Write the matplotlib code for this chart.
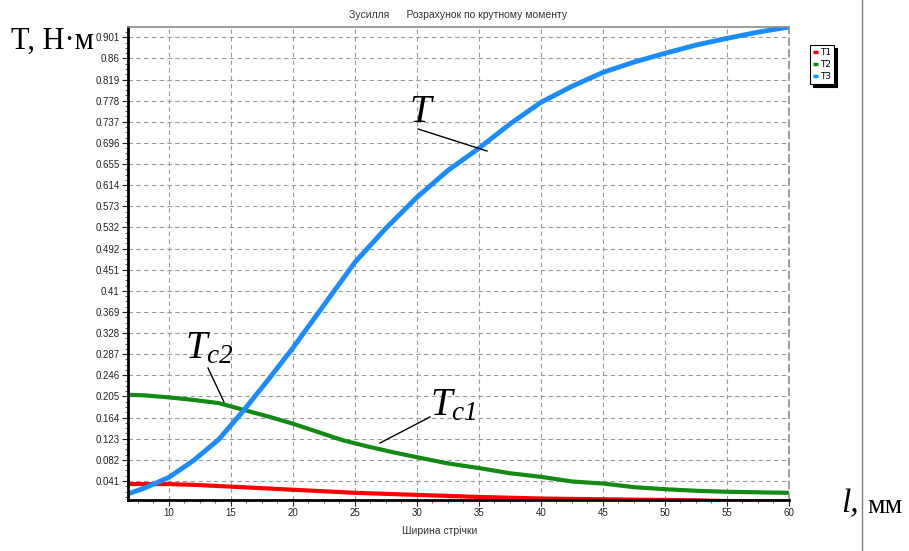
import matplotlib.pyplot as plt
from matplotlib.lines import Line2D
from matplotlib.ticker import MultipleLocator, FixedLocator

# ---------------------------------------------------------
# Data (width l in mm, torque T in N*m)
# ---------------------------------------------------------
x_t1 = [6.7, 10, 12.5, 15, 17.5, 20, 22.5, 25, 27.5, 30, 32.5, 35, 37.5, 40, 42.5, 45, 47.5, 50, 52.5, 55, 57.5, 60]
t1 = [0.035, 0.035, 0.033, 0.030, 0.027, 0.024, 0.021, 0.018, 0.016, 0.014, 0.012, 0.010, 0.0085,
      0.007, 0.0062, 0.0055, 0.0048, 0.0042, 0.0036, 0.002, 0.0015, 0.001]

x_t2 = [6.7, 8, 10, 12, 14, 16, 18, 20, 22, 24, 26, 28, 30, 32.5, 35, 37.5, 40, 42.5, 45, 47.5, 50, 52.5, 55, 57.5, 60]
t2 = [0.208, 0.207, 0.203, 0.198, 0.192, 0.179, 0.166, 0.152, 0.136, 0.120, 0.108, 0.097, 0.087,
      0.075, 0.066, 0.056, 0.049, 0.040, 0.036, 0.029, 0.025, 0.022, 0.020, 0.019, 0.018]

x_t3 = [6.7, 8, 10, 12, 14, 16, 18, 20, 22.5, 25, 27.5, 30, 32.5, 35, 37.5, 40, 42.5, 45, 47.5, 50, 52.5, 55, 57.5, 60]
t3 = [0.016, 0.027, 0.048, 0.081, 0.121, 0.177, 0.237, 0.299, 0.382, 0.465, 0.531, 0.591, 0.643,
      0.686, 0.733, 0.775, 0.806, 0.833, 0.853, 0.870, 0.886, 0.899, 0.911, 0.921]

y_ticks = [0.04096 * k for k in range(1, 23)]
y_tick_labels = ["0.041", "0.082", "0.123", "0.164", "0.205", "0.246", "0.287", "0.328", "0.369",
                 "0.41", "0.451", "0.492", "0.532", "0.573", "0.614", "0.655", "0.696", "0.737",
                 "0.778", "0.819", "0.86", "0.901"]
x_ticks = [10, 15, 20, 25, 30, 35, 40, 45, 50, 55, 60]

# serif italic for the math labels (T with subscripts), digits italic too
plt.rcParams["mathtext.fontset"] = "custom"
plt.rcParams["mathtext.it"] = "Liberation Serif:italic"
plt.rcParams["mathtext.rm"] = "Liberation Serif:italic"

# ---------------------------------------------------------
# Figure
# ---------------------------------------------------------
W, H = 909, 551
fig = plt.figure(figsize=(W / 100, H / 100), dpi=100)
ax = fig.add_axes([128 / W, 1 - 500 / H, (789 - 128) / W, (500 - 27) / H])

ax.plot(x_t1, t1, color="#ff0000", lw=3, label="T1", solid_capstyle="butt")
ax.plot(x_t2, t2, color="#138a13", lw=3, label="T2", solid_capstyle="butt")
ax.plot(x_t3, t3, color="#1a8cff", lw=3.5, label="T3", solid_capstyle="butt")

ax.set_xlim(6.7, 60)
ax.set_ylim(0.0041, 0.921)

ax.xaxis.set_major_locator(FixedLocator(x_ticks))
ax.xaxis.set_minor_locator(MultipleLocator(1.25))
ax.set_yticks(y_ticks)
ax.set_yticklabels(y_tick_labels)
ax.yaxis.set_minor_locator(MultipleLocator(0.04096 / 4))

ax.tick_params(axis="both", which="major", labelsize=7, colors="#222222", length=4, width=0.8, pad=2)
ax.tick_params(axis="both", which="minor", length=2, width=0.6, colors="#444444")
for lbl in ax.get_xticklabels() + ax.get_yticklabels():
    lbl.set_family("Liberation Sans")

ax.grid(True, which="major", color="#9a9a9a", linestyle=(0, (4, 3)), linewidth=0.8)

ax.spines["left"].set_linewidth(2)
ax.spines["bottom"].set_linewidth(2)
ax.spines["top"].set_color("#8c8c8c")
ax.spines["top"].set_linewidth(1.2)
ax.spines["right"].set_color("#8c8c8c")
ax.spines["right"].set_linestyle((0, (4, 3)))
ax.spines["right"].set_linewidth(1.2)

# title and axis label
fig.text(458 / W, 1 - 15 / H, "Зусилля      Розрахунок по крутному моменту",
         ha="center", va="center", fontsize=7.5, color="#333333", family="Liberation Sans")
fig.text(440 / W, 1 - 531 / H, "Ширина стрічки",
         ha="center", va="center", fontsize=7.5, color="#333333", family="Liberation Sans")

# legend with black shadow
leg = ax.legend(loc="upper left", bbox_to_anchor=(810 / W, 1 - 45 / H), bbox_transform=fig.transFigure,
                borderaxespad=0, fontsize=6.5, handlelength=0.6, handletextpad=0.2, borderpad=0.3,
                labelspacing=0.35, fancybox=False, edgecolor="black", framealpha=1,
                shadow={"color": "black", "alpha": 1})
leg.get_frame().set_linewidth(0.8)
for line in leg.get_lines():
    line.set_linewidth(2.5)

# big hand-written style annotations
serif = "Liberation Serif"
fig.text(11 / W, 1 - 49 / H, "T, Н·м", fontsize=22, family=serif, va="baseline")
fig.text(409 / W, 1 - 122 / H, r"$T$", fontsize=28, va="baseline")
fig.text(185 / W, 1 - 358 / H, r"$T_{c2}$", fontsize=28, va="baseline")
fig.text(430 / W, 1 - 415 / H, r"$T_{c1}$", fontsize=28, va="baseline")
fig.text(841 / W, 1 - 512 / H, "l,", fontsize=24, family=serif, style="italic", va="baseline")
fig.text(867 / W, 1 - 513 / H, "мм", fontsize=20, family=serif, va="baseline")

# leader lines
for (x0, y0, x1, y1) in [(418, 129, 487, 151), (208, 368, 224, 402), (430, 417, 380, 443)]:
    fig.add_artist(Line2D([x0 / W, x1 / W], [1 - y0 / H, 1 - y1 / H], color="black", lw=1))

# vertical separator on the right
fig.add_artist(Line2D([862 / W, 862 / W], [0, 1], color="#7f7f7f", lw=1))

fig.savefig("out.png", dpi=100)
